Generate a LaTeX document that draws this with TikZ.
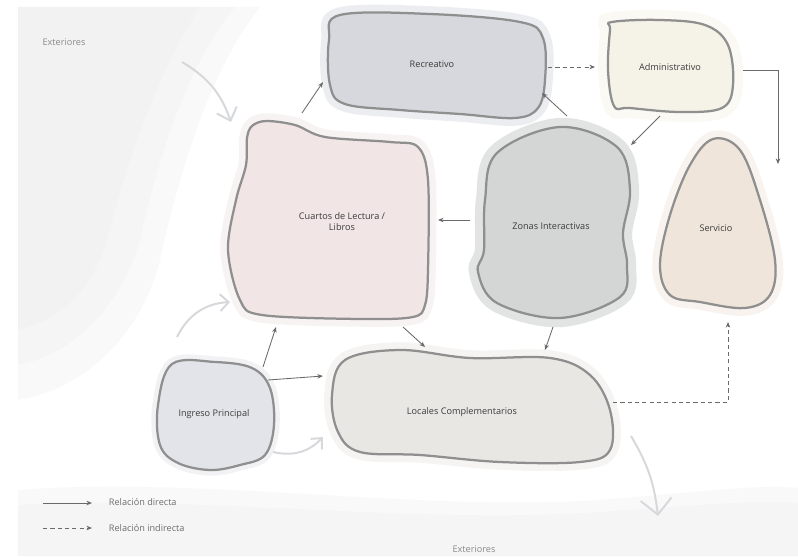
\documentclass[tikz,border=0pt]{standalone}
\usepackage{fontspec}
\setmainfont{Open Sans}
\usetikzlibrary{arrows.meta}

\definecolor{edge}{HTML}{8F8F8F}
\definecolor{ink}{HTML}{3C3C3C}
\definecolor{arrowgray}{HTML}{6A6A6A}
\definecolor{flowgray}{HTML}{D6D8DB}
\definecolor{wash}{HTML}{EEEEEE}
\definecolor{recfill}{HTML}{D7D8DE}
\definecolor{admfill}{HTML}{F5F2E8}
\definecolor{cuafill}{HTML}{F1E5E5}
\definecolor{zonfill}{HTML}{D4D6D6}
\definecolor{serfill}{HTML}{F0E5DB}
\definecolor{ingfill}{HTML}{E3E4E9}
\definecolor{locfill}{HTML}{E9E7E3}

\begin{document}
\begin{tikzpicture}[
  x=0.025cm, y=-0.025cm,
  blob/.style={draw=edge, line width=1.6pt, line join=round},
  lbl/.style={font=\fontsize{6.5}{7.8}\selectfont, text=ink, align=center},
  note/.style={font=\fontsize{6.5}{7.8}\selectfont, text=ink!75, anchor=west},
  arr/.style={draw=arrowgray, line width=0.6pt, -{Stealth[length=4pt, width=3.2pt]}},
  dsh/.style={arr, dash pattern=on 3pt off 2.2pt},
  flow/.style={draw=flowgray, line width=1.4pt, -{Straight Barb[length=8pt, width=15pt]}},
  halo/.style={draw=#1, line width=11pt, opacity=0.45}
]
\useasboundingbox (0,0) rectangle (798,558);
\fill[white] (0,0) rectangle (798,558);
% washes
\fill[wash, opacity=0.3] (18,7) -- (260,7) .. controls (210,70) and (180,170) .. (160,260) .. controls (140,340) and (80,390) .. (18,400) -- cycle;
\fill[wash, opacity=0.3] (18,7) -- (235,7) .. controls (190,60) and (160,150) .. (140,240) .. controls (120,310) and (70,355) .. (18,365) -- cycle;
\fill[wash, opacity=0.3] (18,7) -- (200,7) .. controls (160,70) and (130,150) .. (110,230) .. controls (95,290) and (60,320) .. (18,330) -- cycle;
\fill[wash, opacity=0.35] (18,490) .. controls (200,476) and (420,512) .. (600,500) .. controls (700,492) and (760,484) .. (798,488) -- (798,556) -- (18,556) -- cycle;
\fill[wash, opacity=0.35] (18,505) .. controls (200,495) and (420,525) .. (600,512) .. controls (700,505) and (760,500) .. (798,503) -- (798,556) -- (18,556) -- cycle;

% blobs
\draw[blob, fill=recfill, preaction={halo=recfill}] plot[smooth cycle, tension=0.6] coordinates {(340,15) (430,14) (520,22) (543,38) (545,80) (538,108) (515,118) (460,114) (400,110) (345,104) (330,85) (329,40)};
\draw[blob, fill=admfill, preaction={halo=admfill, line width=14pt}] plot[smooth cycle, tension=0.6] coordinates {(612,22) (660,20) (705,25) (728,45) (733,85) (722,108) (680,112) (630,108) (614,106) (608,70) (610,30)};
\draw[blob, fill=cuafill, preaction={halo=cuafill}] plot[smooth cycle, tension=0.55] coordinates {(252,126) (266,121) (295,125) (325,137) (390,142) (418,147) (428,180) (428,270) (425,305) (413,317) (360,319) (262,315) (240,300) (228,250) (236,200) (246,165) (247,138)};
\draw[blob, fill=zonfill, preaction={halo=zonfill!90!black, line width=13pt}] plot[smooth cycle, tension=0.6] coordinates {(560,127) (617,147) (630,190) (623,233) (627,265) (620,297) (560,318) (497,303) (478,272) (484,250) (485,200) (497,153)};
\draw[blob, fill=serfill, preaction={halo=serfill}] plot[smooth cycle, tension=0.6] coordinates {(713,139) (740,150) (760,200) (775,260) (770,295) (745,308) (700,302) (670,295) (660,265) (670,215) (690,165)};
\draw[blob, fill=ingfill, preaction={halo=ingfill, line width=8pt}] plot[smooth cycle, tension=0.6] coordinates {(172,364) (215,362) (252,368) (270,388) (274,425) (265,455) (240,465) (210,470) (178,463) (160,445) (158,405)};
\draw[blob, fill=locfill, preaction={halo=locfill}] plot[smooth cycle, tension=0.6] coordinates {(345,360) (400,350) (470,358) (550,358) (590,375) (610,410) (610,450) (580,462) (500,462) (420,455) (360,452) (338,432) (332,395)};

% labels
\node[lbl] (rec) at (432,64) {Recreativo};
\node[lbl] (adm) at (670,67) {Administrativo};
\node[lbl] (cua) at (342,222) {Cuartos de Lectura /\\Libros};
\node[lbl] (zon) at (551,226) {Zonas Interactivas};
\node[lbl] (ser) at (716,228) {Servicio};
\node[lbl] (ing) at (214,414) {Ingreso Principal};
\node[lbl] (loc) at (462,412) {Locales Complementarios};
\node[lbl, text=ink!60] (ext1) at (64,42) {Exteriores};
\node[lbl, text=ink!60] (ext2) at (474,549) {Exteriores};

% arrow ends
\coordinate (cua-t) at (302,113);
\coordinate (rec-bl) at (323,82);
\coordinate (zon-t) at (567,116);
\coordinate (rec-br) at (542,93);
\coordinate (rec-r) at (548,67);
\coordinate (adm-l) at (595,67);
\coordinate (adm-b) at (660,116);
\coordinate (zon-tr) at (631,145);
\coordinate (adm-r) at (743,70);
\coordinate (ser-t) at (778,164);
\coordinate (zon-l) at (470,220);
\coordinate (cua-r) at (438,220);
\coordinate (cua-b) at (403,327);
\coordinate (loc-tl) at (425,347);
\coordinate (zon-b) at (553,327);
\coordinate (loc-tr) at (545,350);
\coordinate (ing-t) at (263,367);
\coordinate (cua-bl) at (276,327);
\coordinate (ing-r) at (268,380);
\coordinate (loc-l) at (323,376);
\coordinate (loc-r) at (613,402);
\coordinate (ser-b) at (728,322);

\foreach \a/\b in {cua-t/rec-bl, zon-t/rec-br, adm-b/zon-tr, zon-l/cua-r, cua-b/loc-tl, zon-b/loc-tr, ing-t/cua-bl, ing-r/loc-l}
  \draw[arr] (\a) -- (\b);
\draw[dsh] (rec-r) -- (adm-l);
\draw[arr] (adm-r) -| (ser-t);
\draw[dsh] (loc-r) -| (ser-b);

% flows from outside
\coordinate (f1a) at (182,62);
\coordinate (f1b) at (231,122);
\coordinate (f2a) at (177,337);
\coordinate (f2b) at (230,302);
\coordinate (f3a) at (273,452);
\coordinate (f3b) at (323,437);
\coordinate (f4a) at (631,436);
\coordinate (f4b) at (658,516);
\draw[flow] (f1a) to[bend left=20] (f1b);
\draw[flow, -{Straight Barb[length=6pt, width=12pt]}] (f2a) to[bend left=30] (f2b);
\draw[flow, -{Straight Barb[length=6pt, width=11pt]}] (f3a) to[bend right=30] (f3b);
\draw[flow, -{Straight Barb[length=11pt, width=22pt]}] (f4a) to[bend left=12] (f4b);

% legend
\coordinate (l1a) at (43,503);
\coordinate (l1b) at (92,503);
\coordinate (l2a) at (43,528);
\coordinate (l2b) at (92,528);
\draw[arr] (l1a) -- (l1b);
\draw[dsh] (l2a) -- (l2b);
\node[note] (dir) at (104,502) {Relación directa};
\node[note] (ind) at (104,528) {Relación indirecta};
\end{tikzpicture}
\end{document}
